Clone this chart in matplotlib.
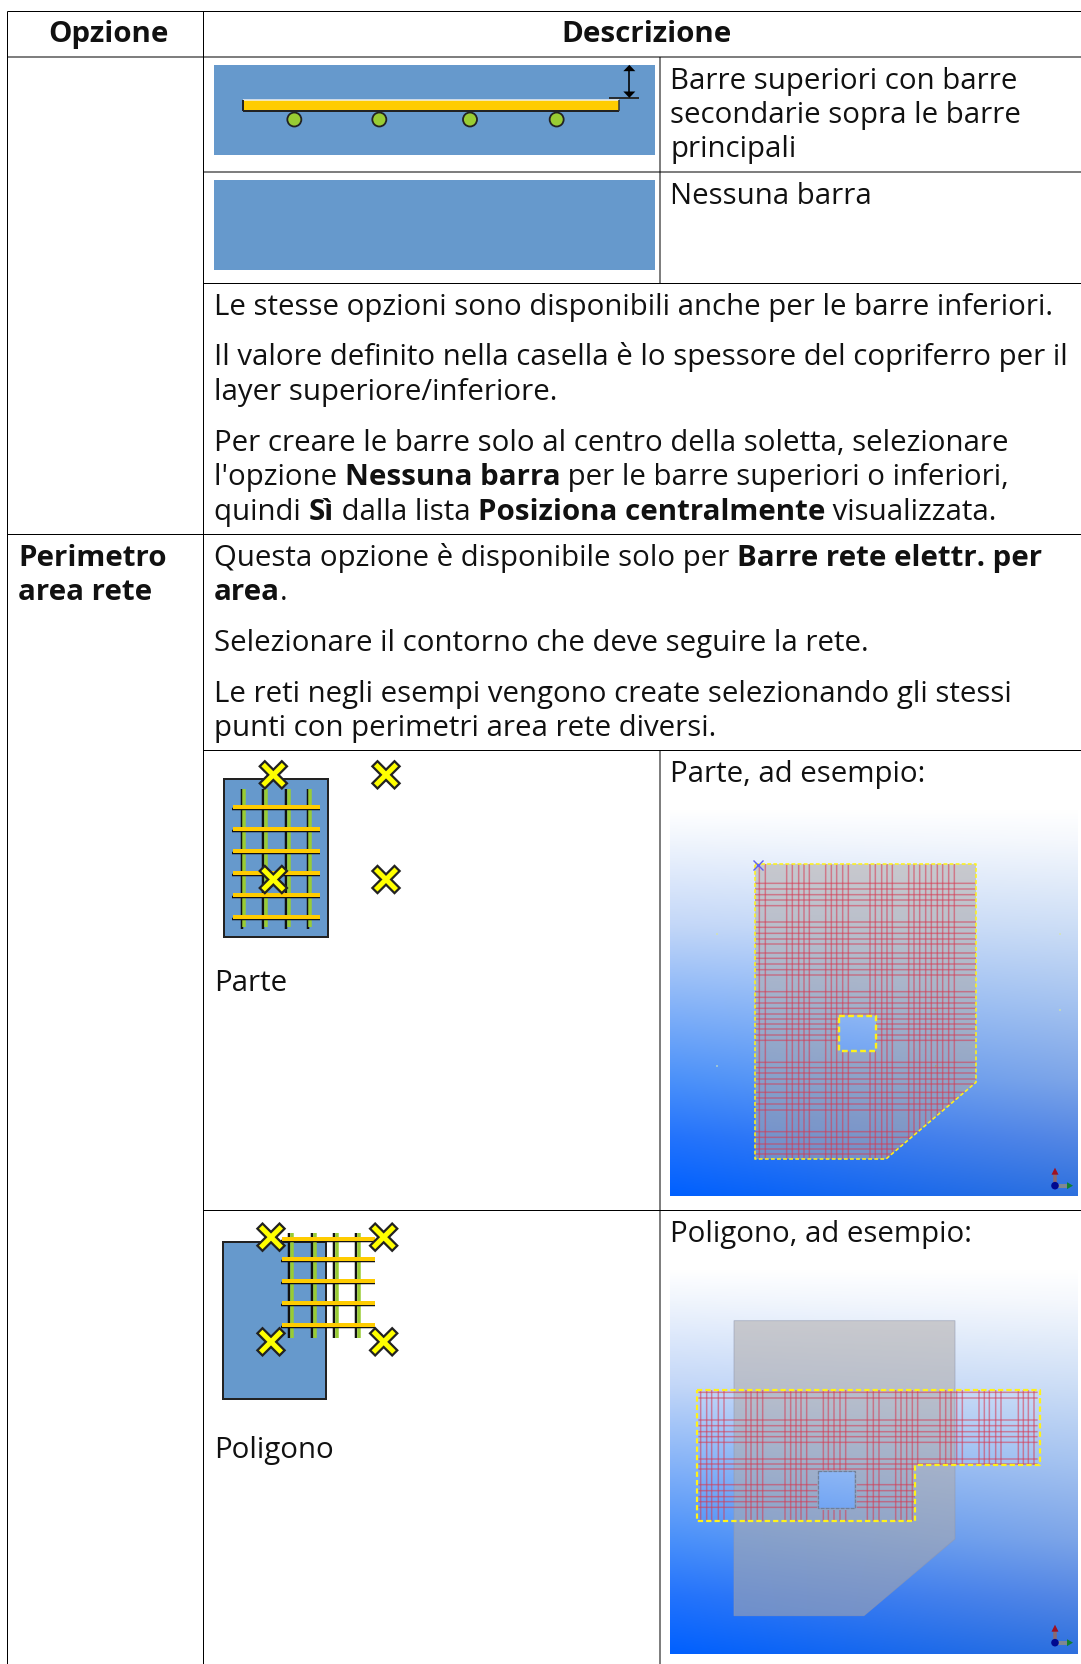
import numpy as np
import matplotlib
matplotlib.use("Agg")
import matplotlib.pyplot as plt
from matplotlib.patches import Polygon, Rectangle, Circle, PathPatch
from matplotlib.path import Path

W, H = 1081, 1665
FONT = "Open Sans"
FS = 21.12
FS_BOLD = 21.22
TXT = "#111111"

# ── Table text: (x, baseline, [(run, bold), ...]) ─────────────
COL0_X = 18.5
COL1_X = 214
COL2_X = 670.5
TEXT_LINES = [
    (COL2_X, 88.5, [("Barre superiori con barre", False)]),
    (COL2_X, 123, [("secondarie sopra le barre", False)]),
    (COL2_X, 157.5, [("principali", False)]),
    (COL2_X, 203.5, [("Nessuna barra", False)]),
    (COL1_X, 315, [("Le stesse opzioni sono disponibili anche per le barre inferiori.", False)]),
    (COL1_X, 365, [("Il valore definito nella casella è lo spessore del copriferro per il", False)]),
    (COL1_X, 400, [("layer superiore/inferiore.", False)]),
    (COL1_X, 451, [("Per creare le barre solo al centro della soletta, selezionare", False)]),
    (COL1_X, 485.5, [("l'opzione ", False), ("Nessuna barra", True), (" per le barre superiori o inferiori,", False)]),
    (COL1_X, 520, [("quindi ", False), ("Sì", True), (" dalla lista ", False), ("Posiziona centralmente", True), (" visualizzata.", False)]),
    (COL0_X, 566, [("Perimetro", True)]),
    (COL0_X, 600.5, [("area rete", True)]),
    (COL1_X, 566, [("Questa opzione è disponibile solo per ", False), ("Barre rete elettr. per", True)]),
    (COL1_X, 600.5, [("area", True), (".", False)]),
    (COL1_X, 651, [("Selezionare il contorno che deve seguire la rete.", False)]),
    (COL1_X, 702, [("Le reti negli esempi vengono create selezionando gli stessi", False)]),
    (COL1_X, 736.5, [("punti con perimetri area rete diversi.", False)]),
    (COL2_X, 782, [("Parte, ad esempio:", False)]),
    (COL1_X, 991.5, [("Parte", False)]),
    (COL2_X, 1242, [("Poligono, ad esempio:", False)]),
    (COL1_X, 1458, [("Poligono", False)]),
]

# ── Part screenshot (zoom coordinates: 3x, origin 660,800) ────
PART_V = [298, 316, 380, 397, 416, 432, 448, 497, 514, 530, 548, 565, 630, 646, 665,
          681, 697, 746, 762, 779, 797, 814, 832, 848, 866, 883]
PART_H = [253, 270, 287, 303, 320, 369, 385, 403, 420, 435, 462, 478, 495, 512, 528,
          578, 595, 612, 628, 645, 660, 675, 690, 708, 724, 790, 806, 822, 840, 855,
          880, 897, 915, 933, 998, 1015, 1035, 1050, 1065]
PART_OUTLINE = [(285, 195), (948, 195), (948, 850), (678, 1080), (285, 1080)]
PART_HOLE = [(537, 650), (648, 650), (648, 757), (537, 757)]

# ── Polygon screenshot (zoom coordinates: 3x, origin 660,1265) ─
POLY_V = [122, 140, 155, 175, 192, 258, 273, 292, 308, 375, 392, 408, 423, 440, 490,
          505, 522, 540, 557, 622, 640, 657, 707, 723, 740, 757, 773, 840, 857, 873,
          890, 907, 957, 973, 988, 1007, 1023, 1075, 1090, 1105, 1122]
POLY_H = [385, 402, 468, 485, 503, 518, 535, 585, 600, 615, 662, 680, 698, 713, 730]
POLY_SLAB = [(222, 170), (885, 170), (885, 825), (612, 1055), (222, 1055)]
POLY_HOLE = [(475, 622), (585, 622), (585, 733), (475, 733)]
POLY_HOLE_MARGIN = [(472, 619), (590, 619), (590, 738), (472, 738)]
POLY_OUTLINE = [(110, 378), (1140, 378), (1140, 603), (765, 603), (765, 772), (110, 772)]

# Icon positions (zoom coordinates)
SECTION_CIRCLES = [313, 568, 840, 1100]
ICON1_V = [125, 190, 258, 323]
ICON1_H = [203, 269, 335, 402, 468, 534]
ICON1_X = [(220, 106), (558, 106), (220, 420), (558, 420)]
ICON2_V = [268, 335, 402, 468]
ICON2_H = [88, 150, 215, 282, 348]
ICON2_X = [(213, 83), (551, 83), (213, 397), (551, 397)]
SPECKS = [(170, 405, "#D8E6A0"), (1200, 405, "#D8E6A0"), (1200, 632, "#D8E6A0"),
          (170, 802, "#C8E0C0"), (828, 632, "#C8A060"), (828, 802, "#B0A068")]

plt.rcParams["font.family"] = [FONT, "DejaVu Sans"]
fig = plt.figure(figsize=(W / 100, H / 100), dpi=100)
ax = fig.add_axes([0, 0, 1, 1])
ax.set_xlim(0, W)
ax.set_ylim(H, 0)
ax.axis("off")

PX = 0.72  # one pixel in points


def z(ox, oy, pts):
    return [(ox + x / 3, oy + y / 3) for x, y in pts]


def line(x0, y0, x1, y1, color="black", w=1.0, zorder=3, **kw):
    return ax.plot([x0, x1], [y0, y1], color=color, lw=w * PX, solid_capstyle="butt",
                   zorder=zorder, **kw)[0]


def rect(x0, y0, x1, y1, fc, ec="none", w=0, zorder=2):
    ax.add_patch(Rectangle((x0, y0), x1 - x0, y1 - y0, fc=fc, ec=ec, lw=w * PX, zorder=zorder))


def cross(x, y, arm=8.5):
    for col, lw, zo in (("#222222", 9.5, 7), ("#FFFF00", 5, 8)):
        for dx in (1, -1):
            ax.plot([x - arm * dx, x + arm * dx], [y - arm, y + arm], color=col,
                    lw=lw * PX, solid_capstyle="projecting", zorder=zo)


def gradient(x0, y0, x1, y1):
    # screenshot background: white top, blue bottom, a little lighter to the right
    ys = np.array([0, 0.08, 0.3, 0.5, 0.7, 0.85, 1.0])
    left = np.array([[255, 255, 255], [240, 245, 253], [195, 215, 248], [135, 180, 248],
                     [75, 145, 250], [35, 115, 252], [0, 96, 255]], float)
    right = np.array([[255, 255, 255], [245, 248, 253], [205, 222, 246], [165, 195, 240],
                      [125, 165, 232], [85, 135, 228], [45, 112, 222]], float)
    ty = np.linspace(0, 1, 200)
    tx = np.linspace(0, 1, 60)
    img = np.zeros((200, 60, 3))
    for c in range(3):
        l = np.interp(ty, ys, left[:, c])
        r = np.interp(ty, ys, right[:, c])
        img[:, :, c] = l[:, None] + (r - l)[:, None] * tx[None, :]
    ax.imshow(img / 255, extent=(x0, x1, y1, y0), aspect="auto", zorder=1, interpolation="bilinear")
    ax.set_xlim(0, W)
    ax.set_ylim(H, 0)


def ring_path(outer, hole):
    verts = outer + [outer[0]] + hole[::-1] + [hole[-1]]
    codes = ([Path.MOVETO] + [Path.LINETO] * (len(outer) - 1) + [Path.CLOSEPOLY]
             + [Path.MOVETO] + [Path.LINETO] * (len(hole) - 1) + [Path.CLOSEPOLY])
    return Path(verts, codes)


def mesh(ox, oy, vs, hs, clip, y_rng, x_rng):
    clip_patch = PathPatch(clip, fc="none", ec="none", transform=ax.transData)
    ax.add_patch(clip_patch)
    for v in vs:
        l = line(ox + v / 3, oy + y_rng[0] / 3, ox + v / 3, oy + y_rng[1] / 3,
                 color="#D83850", w=1.5, zorder=4, alpha=0.55, snap=False)
        l.set_clip_path(clip_patch)
    for h in hs:
        l = line(ox + x_rng[0] / 3, oy + h / 3, ox + x_rng[1] / 3, oy + h / 3,
                 color="#D83850", w=1.5, zorder=4, alpha=0.55, snap=False)
        l.set_clip_path(clip_patch)


def dashed(pts, w=1.6):
    xy = pts + [pts[0]]
    ax.plot([p[0] for p in xy], [p[1] for p in xy], color="#FFF21A", lw=w * PX,
            ls=(0, (2.4, 1.4)), zorder=5)


def triad(x, y):
    # small coordinate axes in the screenshot corner
    line(x, y, x, y - 12, color="#8A6A70", w=3.5, zorder=6)
    ax.add_patch(Polygon([(x - 3.5, y - 11), (x + 3.5, y - 11), (x, y - 18)], fc="#A01020", zorder=7))
    line(x, y, x + 13, y, color="#808890", w=4, zorder=6)
    ax.add_patch(Polygon([(x + 12, y - 3.5), (x + 12, y + 3.5), (x + 18, y)], fc="#108030", zorder=7))
    ax.add_patch(Circle((x, y), 3.8, fc="#000A90", zorder=8))


def draw_runs(x, y, runs):
    rend = fig.canvas.get_renderer()
    for s, bold in runs:
        t = ax.text(x, y, s, fontsize=FS_BOLD if bold else FS, color=TXT, va="baseline", ha="left",
                    fontweight="bold" if bold else "normal", zorder=10)
        x += t.get_window_extent(rend).width


# ── Screenshots ───────────────────────────────────────────────
gradient(670, 810, 1078, 1197)
hole_xy = z(660, 800, PART_HOLE)
ax.add_patch(PathPatch(ring_path(z(660, 800, PART_OUTLINE), hole_xy), fc="#AFAAA8", alpha=0.55,
                       ec="none", zorder=2))
mesh(660, 800, PART_V, PART_H,
     ring_path(z(660, 800, PART_OUTLINE), hole_xy), (195, 1080), (285, 948))
dashed(z(660, 800, PART_OUTLINE))
dashed(hole_xy, w=2.4)
triad(660 + 1185 / 3, 800 + 1160 / 3)
ax.plot([660 + 295 / 3], [800 + 197 / 3], marker="x", ms=7, color="#6060F0", mew=1, zorder=6)
for px, py, col in SPECKS:
    ax.plot([660 + px / 3], [800 + py / 3], marker="s", ms=2, color=col, mew=0, alpha=0.6, zorder=6)

gradient(670, 1270, 1078, 1655)
hole2 = z(660, 1265, POLY_HOLE)
ax.add_patch(PathPatch(ring_path(z(660, 1265, POLY_SLAB), hole2), fc="#AFAAA8", alpha=0.55,
                       ec="#9098B0", lw=0.7, zorder=2))
ax.add_patch(Polygon(hole2, fc="none", ec="#708098", lw=0.9, ls=(0, (3, 1)), zorder=3))
mesh(660, 1265, POLY_V, POLY_H,
     ring_path(z(660, 1265, POLY_OUTLINE), z(660, 1265, POLY_HOLE_MARGIN)), (378, 772), (115, 1133))
dashed(z(660, 1265, POLY_OUTLINE), w=2.2)
triad(660 + 1185 / 3, 1265 + 1136 / 3)

# ── Bar section icons ─────────────────────────────────────────
BLUE = "#6699CC"
rect(214, 65.5, 655, 155.5, BLUE)
rect(214, 180.5, 655, 270.5, BLUE)
o = (190, 50.5)
rect(o[0] + 158 / 3, o[1] + 150 / 3, o[0] + 1287 / 3, o[1] + 184 / 3, "#FFCC00", zorder=3)
line(o[0] + 158 / 3, o[1] + 150 / 3, o[0] + 1287 / 3, o[1] + 150 / 3, color="#F0F0F0", w=1.5, zorder=4)
line(o[0] + 158 / 3, o[1] + 183 / 3, o[0] + 1287 / 3, o[1] + 183 / 3, color="#222222", w=2, zorder=4)
line(o[0] + 159 / 3, o[1] + 152 / 3, o[0] + 159 / 3, o[1] + 184 / 3, color="#222222", w=2, zorder=4)
line(o[0] + 1287 / 3, o[1] + 152 / 3, o[0] + 1287 / 3, o[1] + 184 / 3, color="#333333", w=1.5, zorder=4)
for c in SECTION_CIRCLES:
    ax.add_patch(Circle((o[0] + c / 3, o[1] + 210 / 3), 7, fc="#99CC33", ec="#222222", lw=1.8 * PX, zorder=4))
    line(o[0] + c / 3, o[1] + 184 / 3, o[0] + c / 3, o[1] + 190 / 3, color="#222222", w=4, zorder=4)
ax_x = o[0] + 1318 / 3
line(ax_x, o[1] + 55 / 3, ax_x, o[1] + 140 / 3, w=1.6, zorder=5)
line(o[0] + 1257 / 3, o[1] + 145 / 3, o[0] + 1347 / 3, o[1] + 145 / 3, color="#222222", w=1.8, zorder=5)
ax.add_patch(Polygon([(ax_x - 6, o[1] + 65 / 3), (ax_x + 6, o[1] + 65 / 3), (ax_x, o[1] + 46 / 3)], fc="black", zorder=5))
ax.add_patch(Polygon([(ax_x - 6, o[1] + 126 / 3), (ax_x + 6, o[1] + 126 / 3), (ax_x, o[1] + 145 / 3)], fc="black", zorder=5))

# ── Mesh icons ────────────────────────────────────────────────
o = (200, 740.5)
rect(o[0] + 73 / 3, o[1] + 118 / 3, o[0] + 384 / 3, o[1] + 592 / 3, BLUE, ec="#222222", w=2)
for v in ICON1_V:
    line(o[0] + v / 3, o[1] + 148 / 3, o[0] + v / 3, o[1] + 568 / 3, color="#111111", w=2.5, zorder=4)
    line(o[0] + (v + 8) / 3, o[1] + 148 / 3, o[0] + (v + 8) / 3, o[1] + 562 / 3, color="#99CC33", w=3.5, zorder=4)
for h in ICON1_H:
    line(o[0] + 97 / 3, o[1] + (h + 4) / 3, o[0] + 361 / 3, o[1] + (h + 4) / 3, color="#111111", w=2.5, zorder=5)
    line(o[0] + 100 / 3, o[1] + (h - 2) / 3, o[0] + 361 / 3, o[1] + (h - 2) / 3, color="#FFCC00", w=4, zorder=5)
for x, y in ICON1_X:
    cross(o[0] + x / 3, o[1] + y / 3)

o = (200, 1210.5)
rect(o[0] + 68 / 3, o[1] + 96 / 3, o[0] + 378 / 3, o[1] + 568 / 3, BLUE, ec="#222222", w=2)
for v in ICON2_V:
    line(o[0] + v / 3, o[1] + 70 / 3, o[0] + v / 3, o[1] + 386 / 3, color="#111111", w=2.5, zorder=4)
    line(o[0] + (v + 9) / 3, o[1] + 70 / 3, o[0] + (v + 9) / 3, o[1] + 384 / 3, color="#99CC33", w=3.5, zorder=4)
for h in ICON2_H:
    line(o[0] + 242 / 3, o[1] + (h + 5) / 3, o[0] + 525 / 3, o[1] + (h + 5) / 3, color="#111111", w=2.5, zorder=5)
    line(o[0] + 246 / 3, o[1] + (h - 1) / 3, o[0] + 525 / 3, o[1] + (h - 1) / 3, color="#FFCC00", w=4, zorder=5)
for x, y in ICON2_X:
    cross(o[0] + x / 3, o[1] + y / 3)

# ── Table grid ────────────────────────────────────────────────
RULES_H = [(7.5, 1081, 12.5), (7.5, 1081, 58), (203.5, 1081, 173), (203.5, 1081, 284.5),
           (7.5, 1081, 535.5), (203.5, 1081, 751.5), (203.5, 1081, 1211.5)]
RULES_V = [(7.5, 12.5, 1665), (203.5, 12.5, 1665), (660, 58, 284.5), (660, 751.5, 1665)]
for x0, x1, y in RULES_H:
    line(x0, y, x1, y, snap=False, zorder=9)
for x, y0, y1 in RULES_V:
    line(x, y0, x, y1, snap=False, zorder=9)

# ── Text ──────────────────────────────────────────────────────
ax.text(108, 42, "Opzione", fontsize=FS_BOLD, fontweight="bold", color=TXT, ha="center", va="baseline", zorder=10)
ax.text(646, 42, "Descrizione", fontsize=FS_BOLD, fontweight="bold", color=TXT, ha="center", va="baseline", zorder=10)
for x, y, runs in TEXT_LINES:
    draw_runs(x, y, runs)

fig.savefig("out.png", dpi=100, facecolor="white")
